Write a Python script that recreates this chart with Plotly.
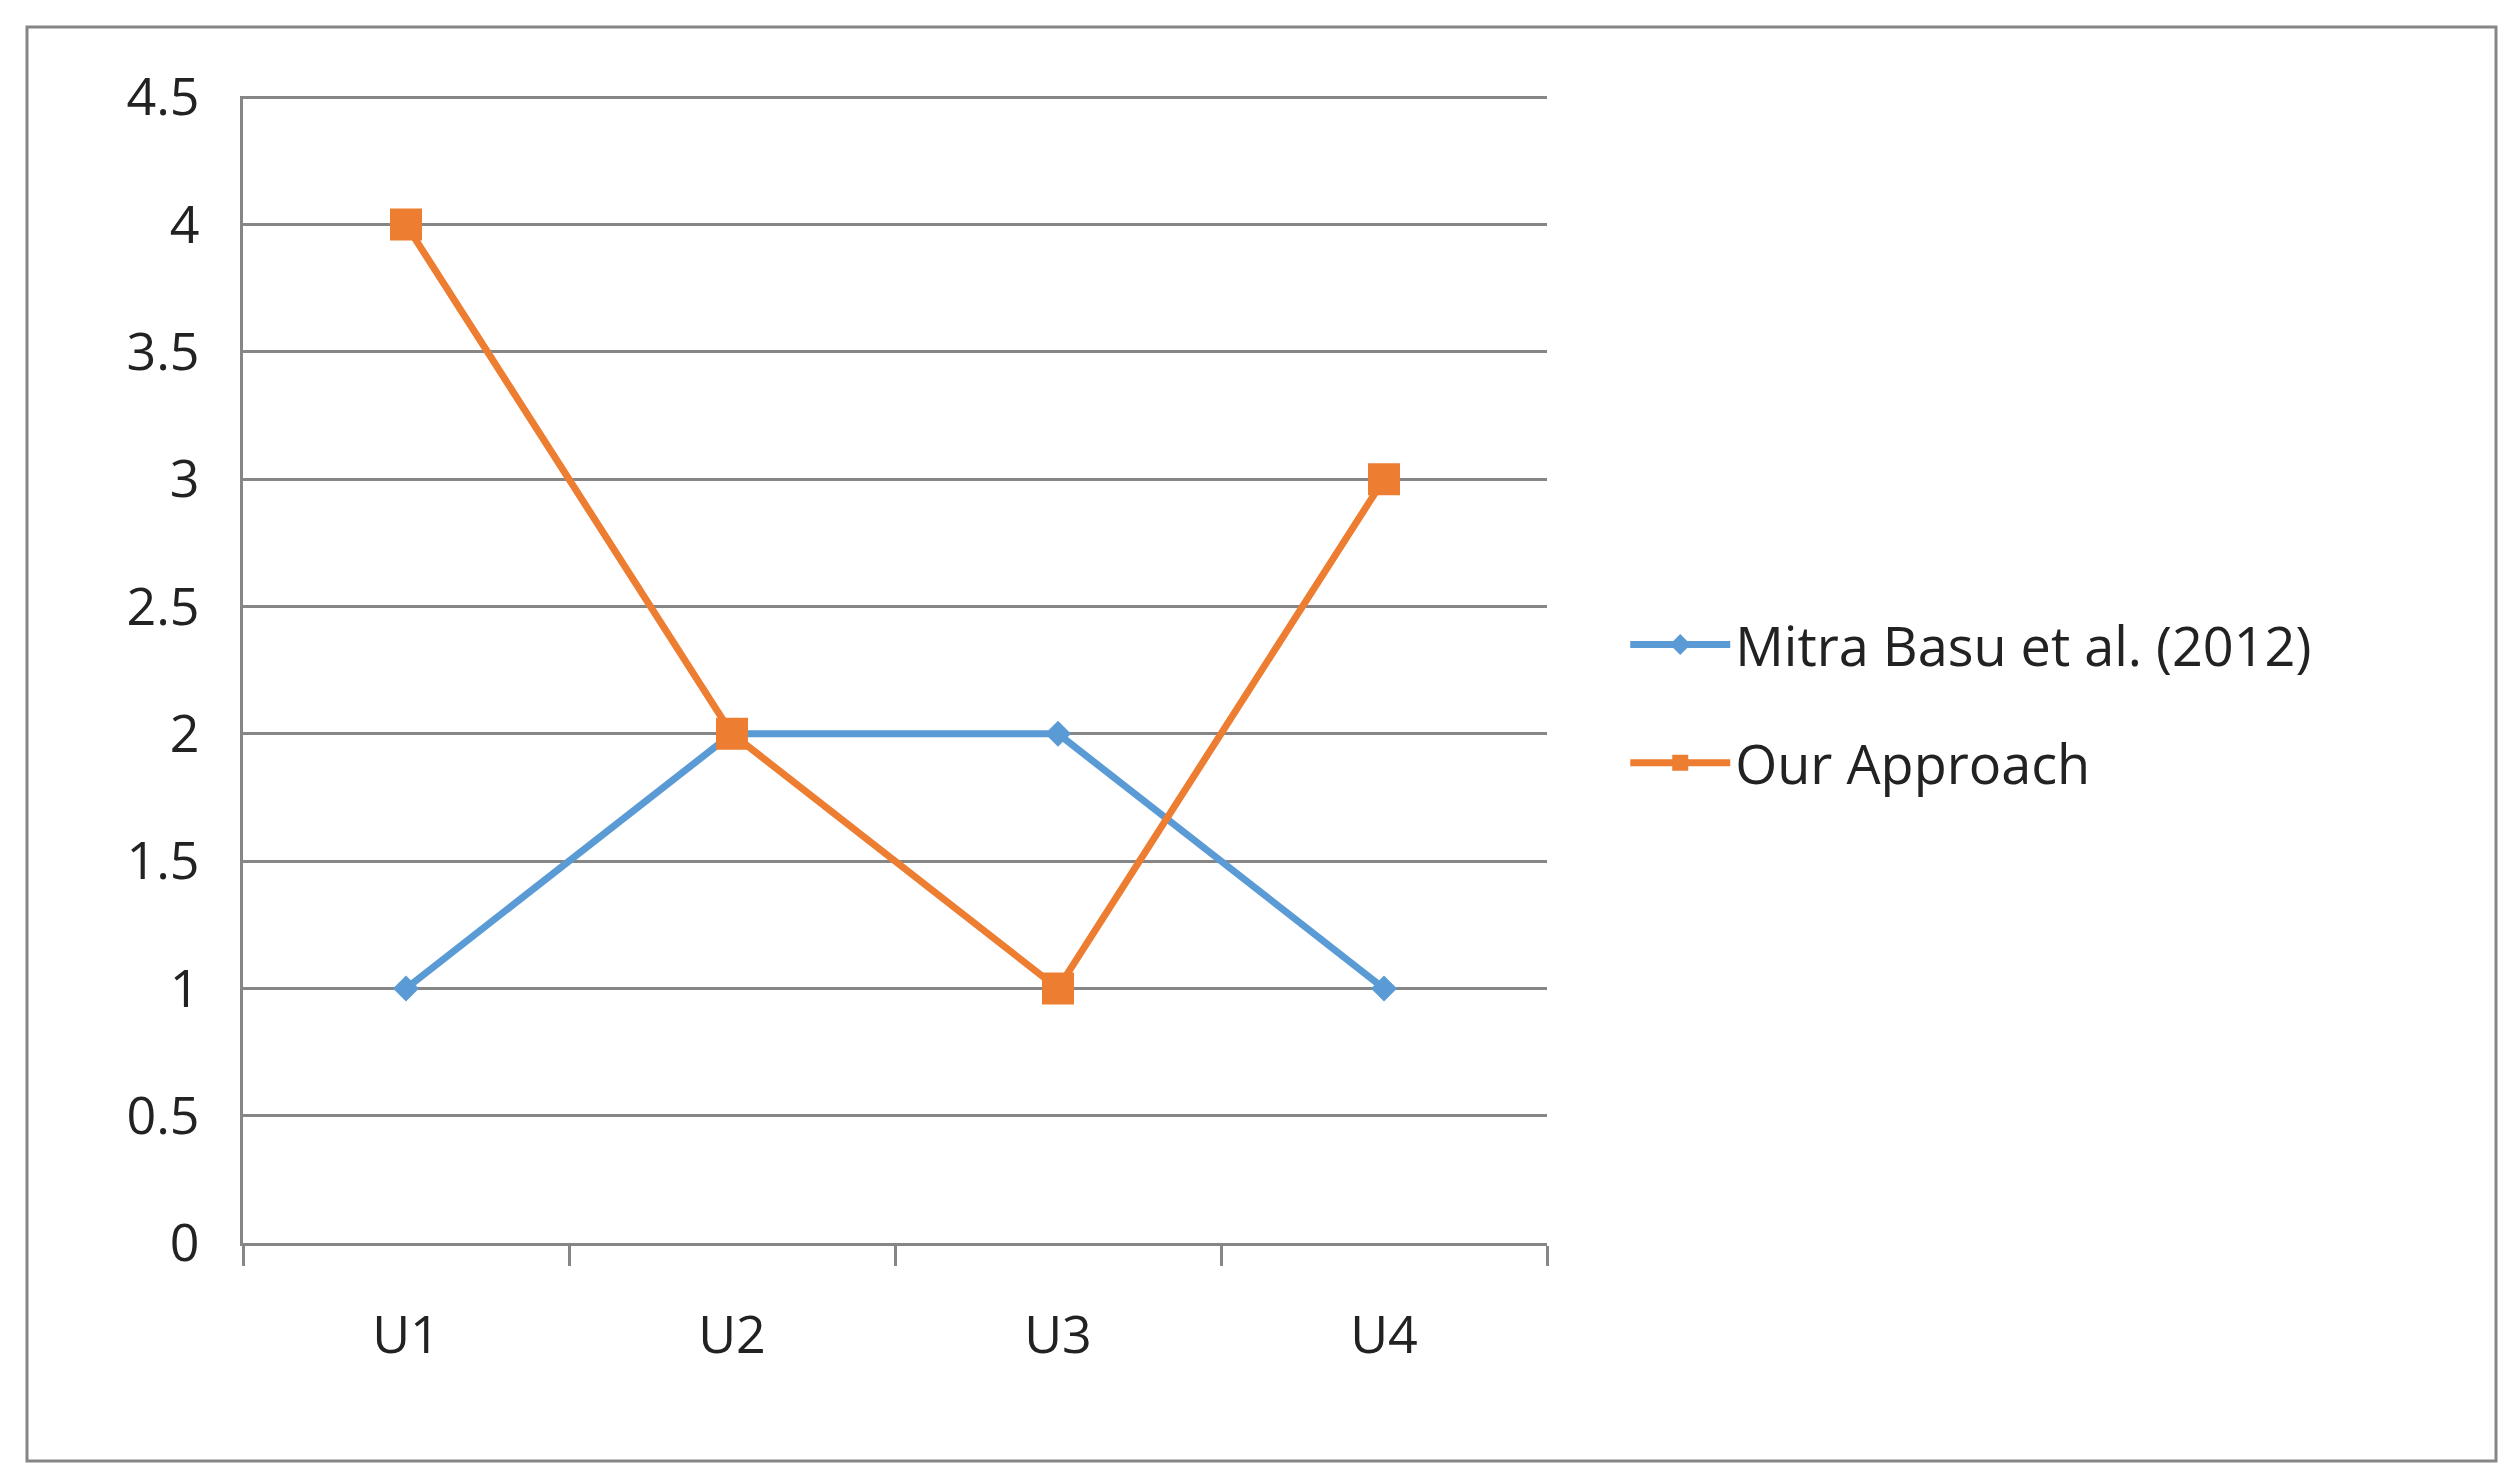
import plotly.graph_objects as go

categories = ["U1", "U2", "U3", "U4"]
mitra = [1, 2, 2, 1]
ours = [4, 2, 1, 3]

W, H = 2509, 1475
fig = go.Figure()
fig.add_trace(go.Scatter(x=categories, y=mitra, name="Mitra Basu et al. (2012)",
                         mode="lines+markers", legendgroup="a",
                         line=dict(color="#5b9bd5", width=7),
                         marker=dict(symbol="diamond", size=20, color="#5b9bd5")))
fig.add_trace(go.Scatter(x=categories, y=ours, name="Our Approach",
                         mode="lines+markers", legendgroup="b",
                         line=dict(color="#ed7d31", width=7),
                         marker=dict(symbol="square", size=32, color="#ed7d31")))

fig.update_layout(
    width=W, height=H,
    paper_bgcolor="white", plot_bgcolor="white",
    font=dict(family="Open Sans", size=52, color="#222"),
    margin=dict(l=235, r=W - 1539, t=88, b=H - 1235),
    showlegend=True,
    legend=dict(x=1.06, y=0.47, xanchor="left", yanchor="middle",
                font=dict(size=54), itemwidth=100, tracegroupgap=45),
    xaxis=dict(range=[-0.5, 3.5], showgrid=False, showline=True, linecolor="#868686",
               linewidth=3, ticks="outside", tickson="boundaries", ticklen=20,
               tickcolor="#868686", tickwidth=3, ticklabelstandoff=45),
    yaxis=dict(range=[0, 4.505], tickvals=[0, 0.5, 1, 1.5, 2, 2.5, 3, 3.5, 4, 4.5],
               showgrid=True, gridcolor="#868686",
               gridwidth=3, showline=True, linecolor="#868686", linewidth=3,
               zeroline=False, ticks="", ticklabelstandoff=30),
    shapes=[dict(type="rect", xref="paper", yref="paper",
                 x0=(19 - 235) / (1539 - 235), x1=(2488 - 235) / (1539 - 235),
                 y0=-(1453 - 1235) / (1235 - 88), y1=1 + (88 - 19) / (1235 - 88),
                 line=dict(color="#868686", width=3))],
)

fig.write_html("out.html")
